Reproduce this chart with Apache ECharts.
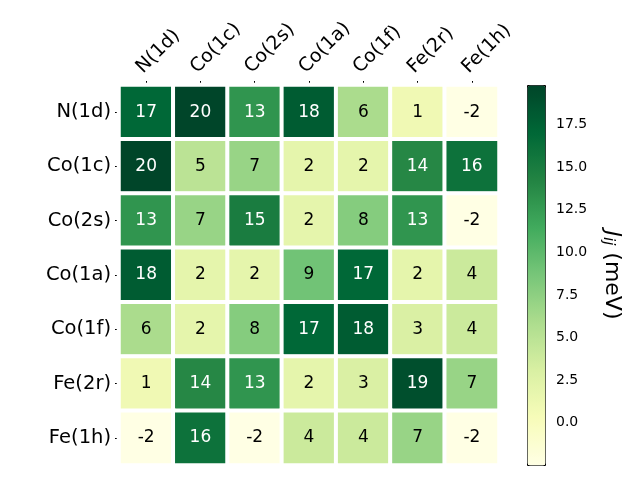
<!DOCTYPE html>
<html><head><meta charset="utf-8">
<script src="https://cdn.jsdelivr.net/npm/echarts@6/dist/echarts.min.js"></script>
<style>html,body{margin:0;padding:0;background:#fff}#c{width:640px;height:480px}</style>
</head><body><div id="c"></div>
<script>
const labels = ['N(1d)','Co(1c)','Co(2s)','Co(1a)','Co(1f)','Fe(2r)','Fe(1h)'];
const row_N1d  = [17, 19.8, 13, 18, 6, 1, -2.4];
const row_Co1c = [19.8, 5, 7, 2, 2, 14, 16];
const row_Co2s = [13, 7, 15, 2, 8, 13, -2.4];
const row_Co1a = [18, 2, 2, 9, 17, 2, 4];
const row_Co1f = [6, 2, 8, 17, 18, 3, 4];
const row_Fe2r = [1, 14, 13, 2, 3, 19, 7];
const row_Fe1h = [-2.4, 16, -2.4, 4, 4, 7, -2.4];
const rows = [row_N1d,row_Co1c,row_Co2s,row_Co1a,row_Co1f,row_Fe2r,row_Fe1h];
const cbTicks = [0,2.5,5,7.5,10,12.5,15,17.5];
const vmin = -2.48, vmax = 19.82;
const YlGn = ['#ffffe5','#f7fcb9','#d9f0a3','#addd8e','#78c679','#41ab5d','#238443','#006837','#004529'];

const data = [];
rows.forEach((r, yi) => r.forEach((v, xi) => {
  data.push({value:[xi, yi, v], label:{color: v > 11 ? '#ffffff' : '#000000'}});
}));
const font = 'DejaVu Sans';
const chart = echarts.init(document.getElementById('c'));
chart.setOption({
  animation:false,
  backgroundColor:'#fff',
  grid:[
    {left:119, top:85, width:380, height:380},
    {left:527, top:85, width:18, height:380}
  ],
  xAxis:[
    {gridIndex:0, type:'category', data:labels, position:'top',
     axisLine:{show:false}, splitLine:{show:false},
     axisTick:{show:true, alignWithLabel:true, length:4, lineStyle:{color:'#000'}},
     axisLabel:{rotate:-45, fontFamily:font, fontSize:19, color:'#000', margin:8, verticalAlign:'bottom'}},
    {gridIndex:1, type:'value', show:false, min:0, max:1}
  ],
  yAxis:[
    {gridIndex:0, type:'category', data:labels, inverse:true,
     axisLine:{show:false}, splitLine:{show:false},
     axisTick:{show:true, alignWithLabel:true, length:4, lineStyle:{color:'#000'}},
     axisLabel:{fontFamily:font, fontSize:19.5, color:'#000', margin:8}},
    {gridIndex:1, type:'value', position:'right', min:vmin, max:vmax,
     splitLine:{show:false},
     axisLine:{show:false},
     axisTick:{show:true, customValues:cbTicks, length:5, lineStyle:{color:'#000'}},
     axisLabel:{customValues:cbTicks, formatter:v=>v.toFixed(1), fontFamily:font, fontSize:14, color:'#000', margin:11},
     name:'{j|J}{s|ij} (meV)', nameLocation:'middle', nameRotate:-90, nameGap:55,
     nameTextStyle:{fontFamily:font, fontSize:22, color:'#000',
       rich:{j:{fontFamily:font, fontSize:22, fontStyle:'italic', color:'#000'},
             s:{fontFamily:font, fontSize:15, fontStyle:'italic', color:'#000', verticalAlign:'bottom', padding:[9,0,0,0]}}}}
  ],
  visualMap:{type:'continuous', min:vmin, max:vmax, calculable:false,
    itemWidth:18, itemHeight:380, left:527, top:85, padding:0,
    borderColor:'#000', borderWidth:1, text:null, showLabel:false,
    inRange:{color:YlGn}, seriesIndex:0},
  series:[{
    type:'heatmap', xAxisIndex:0, yAxisIndex:0, data:data,
    itemStyle:{borderColor:'#fff', borderWidth:4},
    label:{show:true, formatter:p=>String(Math.round(p.value[2])), fontFamily:font, fontSize:17}
  }]
});
</script></body></html>
